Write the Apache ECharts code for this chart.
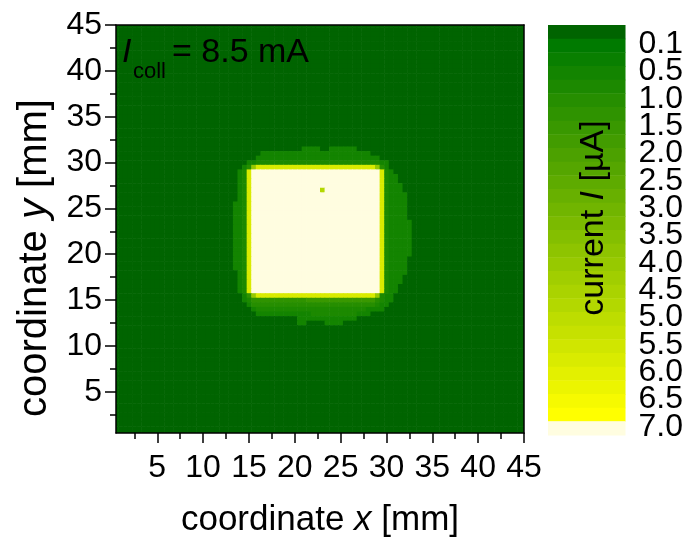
<!DOCTYPE html>
<html>
<head>
<meta charset="utf-8">
<script src="https://cdn.jsdelivr.net/npm/echarts@6/dist/echarts.min.js"></script>
<style>
  html, body { margin: 0; padding: 0; background: #ffffff; }
  #chart { width: 686px; height: 538px; }
</style>
</head>
<body>
<div id="chart"></div>
<script>
// Collector current map I(x, y) on a 0.5 mm scan grid, 0.5 ... 45 mm in x and y.
const FONT = '"Liberation Sans", Arial, Helvetica, sans-serif';

const gridStep = 0.5;
const xStart = 0.5, xEnd = 45;
const yStart = 0.5, yEnd = 45;

const axisTicks = [5, 10, 15, 20, 25, 30, 35, 40, 45];
const axisMinorTicks = [2.5, 7.5, 12.5, 17.5, 22.5, 27.5, 32.5, 37.5, 42.5];

// contour level boundaries of the colour scale, in µA
const levelBounds = [0.1, 0.3, 0.5, 0.75, 1.0, 1.25, 1.5, 1.75, 2.0, 2.25, 2.5, 2.75, 3.0, 3.25,
  3.5, 3.75, 4.0, 4.25, 4.5, 4.75, 5.0, 5.25, 5.5, 5.75, 6.0, 6.25, 6.5, 6.75, 7.0];
const levelLabels = ['0.1', '0.5', '1.0', '1.5', '2.0', '2.5', '3.0', '3.5', '4.0', '4.5',
  '5.0', '5.5', '6.0', '6.5', '7.0'];
const levelLabelPos = [1, 3, 5, 7, 9, 11, 13, 15, 17, 19, 21, 23, 25, 27, 29];
const labelDrop = 0.4; // labels sit slightly below their band boundary

// one character per grid point; each code stands for a current (µA) inside one contour band
const levelCodes = '0123456789abcdefghijklmnopqrst';
const codeCurrent = {
  '0': 0.05, '1': 0.2, '2': 0.4, '3': 0.6, '4': 0.9, '5': 1.1, '6': 1.4, '7': 1.6,
  '8': 1.9, '9': 2.1, 'a': 2.4, 'b': 2.6, 'c': 2.9, 'd': 3.1, 'e': 3.4, 'f': 3.6,
  'g': 3.9, 'h': 4.1, 'i': 4.4, 'j': 4.6, 'k': 4.9, 'l': 5.1, 'm': 5.4, 'n': 5.6,
  'o': 5.9, 'p': 6.1, 'q': 6.4, 'r': 6.6, 's': 6.9, 't': 9.0
};

// rows from y = 45 mm (top) down to y = 0.5 mm; columns from x = 0.5 mm to 45 mm
const currentRows = [
  "00000 00000 00000 00000 00000 00000 00000 00000 00000 00000 00000 00000 00000 00000 00000 00000 00000 00000",
  "00000 00000 00000 00000 00000 00000 00000 00000 00000 00000 00000 00000 00000 00000 00000 00000 00000 00000",
  "00000 00000 00000 00000 00000 00000 00000 00000 00000 00000 00000 00000 00000 00000 00000 00000 00000 00000",
  "00000 00000 00000 00000 00000 00000 00000 00000 00000 00000 00000 00000 00000 00000 00000 00000 00000 00000",
  "00000 00000 00000 00000 00000 00000 00000 00000 00000 00000 00000 00000 00000 00000 00000 00000 00000 00000",
  "00000 00000 00000 00000 00000 00000 00000 00000 00000 00000 00000 00000 00000 00000 00000 00000 00000 00000",
  "00000 00000 00000 00000 00000 00000 00000 00000 00000 00000 00000 00000 00000 00000 00000 00000 00000 00000",
  "00000 00000 00000 00000 00000 00000 00000 00000 00000 00000 00000 00000 00000 00000 00000 00000 00000 00000",
  "00000 00000 00000 00000 00000 00000 00000 00000 00000 00000 00000 00000 00000 00000 00000 00000 00000 00000",
  "00000 00000 00000 00000 00000 00000 00000 00000 00000 00000 00000 00000 00000 00000 00000 00000 00000 00000",
  "00000 00000 00000 00000 00000 00000 00000 00000 00000 00000 00000 00000 00000 00000 00000 00000 00000 00000",
  "00000 00000 00000 00000 00000 00000 00000 00000 00000 00000 00000 00000 00000 00000 00000 00000 00000 00000",
  "00000 00000 00000 00000 00000 00000 00000 00000 00000 00000 00000 00000 00000 00000 00000 00000 00000 00000",
  "00000 00000 00000 00000 00000 00000 00000 00000 00000 00000 00000 00000 00000 00000 00000 00000 00000 00000",
  "00000 00000 00000 00000 00000 00000 00000 00000 00000 00000 00000 00000 00000 00000 00000 00000 00000 00000",
  "00000 00000 00000 00000 00000 00000 00000 00000 00000 00000 00000 00000 00000 00000 00000 00000 00000 00000",
  "00000 00000 00000 00000 00000 00000 00000 00000 00000 00000 00000 00000 00000 00000 00000 00000 00000 00000",
  "00000 00000 00000 00000 00000 00000 00000 00000 00000 00000 00000 00000 00000 00000 00000 00000 00000 00000",
  "00000 00000 00000 00000 00000 00000 00000 00000 00000 00000 00000 00000 00000 00000 00000 00000 00000 00000",
  "00000 00000 00000 00000 00000 00000 00000 00000 00000 00000 00000 00000 00000 00000 00000 00000 00000 00000",
  "00000 00000 00000 00000 00000 00000 00000 00000 00000 00000 00000 00000 00000 00000 00000 00000 00000 00000",
  "00000 00000 00000 00000 00000 00000 00000 00000 00000 00000 00000 00000 00000 00000 00000 00000 00000 00000",
  "00000 00000 00000 00000 00000 00000 00000 00000 00000 00000 00000 00000 00000 00000 00000 00000 00000 00000",
  "00000 00000 00000 00000 00000 00000 00000 00000 00000 00000 00000 00000 00000 00000 00000 00000 00000 00000",
  "00000 00000 00000 00000 00000 00000 00000 00000 00000 00000 00000 00000 00000 00000 00000 00000 00000 00000",
  "00000 00000 00000 00000 00000 00000 00000 00000 00000 00000 00000 00000 00000 00000 00000 00000 00000 00000",
  "00000 00000 00000 00000 00000 00000 00000 00000 00000 00000 00000 00000 00000 00000 00000 00000 00000 00000",
  "00000 00000 00000 00000 00000 00000 00000 00000 03333 00333 33300 00000 00000 00000 00000 00000 00000 00000",
  "00000 00000 00000 00000 00000 00000 00333 33333 33333 33333 33333 30000 00000 00000 00000 00000 00000 00000",
  "00000 00000 00000 00000 00000 00000 03333 33333 33333 33333 33333 33300 00000 00000 00000 00000 00000 00000",
  "00000 00000 00000 00000 00000 00003 34444 44444 44444 44444 44444 44433 00000 00000 00000 00000 00000 00000",
  "00000 00000 00000 00000 00000 00035 hoooo ooooo ooooo ooooo ooooo ooh53 00000 00000 00000 00000 00000 00000",
  "00000 00000 00000 00000 00000 0034o ttttt ttttt ttttt ttttt ttttt ttto4 30000 00000 00000 00000 00000 00000",
  "00000 00000 00000 00000 00000 0034o ttttt ttttt ttttt ttttt ttttt ttto4 33000 00000 00000 00000 00000 00000",
  "00000 00000 00000 00000 00000 0034o ttttt ttttt ttttt ttttt ttttt ttto4 33000 00000 00000 00000 00000 00000",
  "00000 00000 00000 00000 00000 0034o ttttt ttttt ttttt ttttt ttttt ttto4 33300 00000 00000 00000 00000 00000",
  "00000 00000 00000 00000 00000 0034o ttttt ttttt ttttt ktttt ttttt ttto4 33300 00000 00000 00000 00000 00000",
  "00000 00000 00000 00000 00000 0034o ttttt ttttt ttttt ttttt ttttt ttto4 33330 00000 00000 00000 00000 00000",
  "00000 00000 00000 00000 00000 0034o ttttt ttttt ttttt ttttt ttttt ttto4 33330 00000 00000 00000 00000 00000",
  "00000 00000 00000 00000 00000 0334o ttttt ttttt ttttt ttttt ttttt ttto4 33330 00000 00000 00000 00000 00000",
  "00000 00000 00000 00000 00000 0334o ttttt ttttt ttttt ttttt ttttt ttto4 33330 00000 00000 00000 00000 00000",
  "00000 00000 00000 00000 00000 0334o ttttt ttttt ttttt ttttt ttttt ttto4 33330 00000 00000 00000 00000 00000",
  "00000 00000 00000 00000 00000 0334o ttttt ttttt ttttt ttttt ttttt ttto4 33330 00000 00000 00000 00000 00000",
  "00000 00000 00000 00000 00000 0334o ttttt ttttt ttttt ttttt ttttt ttto4 33333 00000 00000 00000 00000 00000",
  "00000 00000 00000 00000 00000 0334o ttttt ttttt ttttt ttttt ttttt ttto4 33333 00000 00000 00000 00000 00000",
  "00000 00000 00000 00000 00000 0334o ttttt ttttt ttttt ttttt ttttt ttto4 33333 00000 00000 00000 00000 00000",
  "00000 00000 00000 00000 00000 0334o ttttt ttttt ttttt ttttt ttttt ttto4 33333 00000 00000 00000 00000 00000",
  "00000 00000 00000 00000 00000 0334o ttttt ttttt ttttt ttttt ttttt ttto4 33333 00000 00000 00000 00000 00000",
  "00000 00000 00000 00000 00000 0334o ttttt ttttt ttttt ttttt ttttt ttto4 33333 00000 00000 00000 00000 00000",
  "00000 00000 00000 00000 00000 0334o ttttt ttttt ttttt ttttt ttttt ttto4 33333 00000 00000 00000 00000 00000",
  "00000 00000 00000 00000 00000 0334o ttttt ttttt ttttt ttttt ttttt ttto4 33333 00000 00000 00000 00000 00000",
  "00000 00000 00000 00000 00000 0334o ttttt ttttt ttttt ttttt ttttt ttto4 33330 00000 00000 00000 00000 00000",
  "00000 00000 00000 00000 00000 0334o ttttt ttttt ttttt ttttt ttttt ttto4 33330 00000 00000 00000 00000 00000",
  "00000 00000 00000 00000 00000 0334o ttttt ttttt ttttt ttttt ttttt ttto4 33330 00000 00000 00000 00000 00000",
  "00000 00000 00000 00000 00000 0034o ttttt ttttt ttttt ttttt ttttt ttto4 33330 00000 00000 00000 00000 00000",
  "00000 00000 00000 00000 00000 0034o ttttt ttttt ttttt ttttt ttttt ttto4 33300 00000 00000 00000 00000 00000",
  "00000 00000 00000 00000 00000 0034o ttttt ttttt ttttt ttttt ttttt ttto4 33300 00000 00000 00000 00000 00000",
  "00000 00000 00000 00000 00000 0034o ttttt ttttt ttttt ttttt ttttt ttto4 33000 00000 00000 00000 00000 00000",
  "00000 00000 00000 00000 00000 0034o ttttt ttttt ttttt ttttt ttttt ttto4 33000 00000 00000 00000 00000 00000",
  "00000 00000 00000 00000 00000 00036 hoooo ooooo ooooo ooooo ooooo ooh43 30000 00000 00000 00000 00000 00000",
  "00000 00000 00000 00000 00000 00034 66666 66666 66777 77777 77777 77543 30000 00000 00000 00000 00000 00000",
  "00000 00000 00000 00000 00000 00003 55555 55555 55555 55555 55555 55433 00000 00000 00000 00000 00000 00000",
  "00000 00000 00000 00000 00000 00000 34444 44444 44444 44444 44444 33330 00000 00000 00000 00000 00000 00000",
  "00000 00000 00000 00000 00000 00000 03333 33333 33344 44444 44433 30000 00000 00000 00000 00000 00000 00000",
  "00000 00000 00000 00000 00000 00000 00000 00000 33333 33333 33300 00000 00000 00000 00000 00000 00000 00000",
  "00000 00000 00000 00000 00000 00000 00000 00000 33000 03333 00000 00000 00000 00000 00000 00000 00000 00000",
  "00000 00000 00000 00000 00000 00000 00000 00000 00000 00000 00000 00000 00000 00000 00000 00000 00000 00000",
  "00000 00000 00000 00000 00000 00000 00000 00000 00000 00000 00000 00000 00000 00000 00000 00000 00000 00000",
  "00000 00000 00000 00000 00000 00000 00000 00000 00000 00000 00000 00000 00000 00000 00000 00000 00000 00000",
  "00000 00000 00000 00000 00000 00000 00000 00000 00000 00000 00000 00000 00000 00000 00000 00000 00000 00000",
  "00000 00000 00000 00000 00000 00000 00000 00000 00000 00000 00000 00000 00000 00000 00000 00000 00000 00000",
  "00000 00000 00000 00000 00000 00000 00000 00000 00000 00000 00000 00000 00000 00000 00000 00000 00000 00000",
  "00000 00000 00000 00000 00000 00000 00000 00000 00000 00000 00000 00000 00000 00000 00000 00000 00000 00000",
  "00000 00000 00000 00000 00000 00000 00000 00000 00000 00000 00000 00000 00000 00000 00000 00000 00000 00000",
  "00000 00000 00000 00000 00000 00000 00000 00000 00000 00000 00000 00000 00000 00000 00000 00000 00000 00000",
  "00000 00000 00000 00000 00000 00000 00000 00000 00000 00000 00000 00000 00000 00000 00000 00000 00000 00000",
  "00000 00000 00000 00000 00000 00000 00000 00000 00000 00000 00000 00000 00000 00000 00000 00000 00000 00000",
  "00000 00000 00000 00000 00000 00000 00000 00000 00000 00000 00000 00000 00000 00000 00000 00000 00000 00000",
  "00000 00000 00000 00000 00000 00000 00000 00000 00000 00000 00000 00000 00000 00000 00000 00000 00000 00000",
  "00000 00000 00000 00000 00000 00000 00000 00000 00000 00000 00000 00000 00000 00000 00000 00000 00000 00000",
  "00000 00000 00000 00000 00000 00000 00000 00000 00000 00000 00000 00000 00000 00000 00000 00000 00000 00000",
  "00000 00000 00000 00000 00000 00000 00000 00000 00000 00000 00000 00000 00000 00000 00000 00000 00000 00000",
  "00000 00000 00000 00000 00000 00000 00000 00000 00000 00000 00000 00000 00000 00000 00000 00000 00000 00000",
  "00000 00000 00000 00000 00000 00000 00000 00000 00000 00000 00000 00000 00000 00000 00000 00000 00000 00000",
  "00000 00000 00000 00000 00000 00000 00000 00000 00000 00000 00000 00000 00000 00000 00000 00000 00000 00000",
  "00000 00000 00000 00000 00000 00000 00000 00000 00000 00000 00000 00000 00000 00000 00000 00000 00000 00000",
  "00000 00000 00000 00000 00000 00000 00000 00000 00000 00000 00000 00000 00000 00000 00000 00000 00000 00000",
  "00000 00000 00000 00000 00000 00000 00000 00000 00000 00000 00000 00000 00000 00000 00000 00000 00000 00000",
  "00000 00000 00000 00000 00000 00000 00000 00000 00000 00000 00000 00000 00000 00000 00000 00000 00000 00000",
  "00000 00000 00000 00000 00000 00000 00000 00000 00000 00000 00000 00000 00000 00000 00000 00000 00000 00000"
];

// ---- colour scale: darkest band, 28-step green→yellow ramp, pale top band ----
const rampFrom = [0, 122, 0], rampTo = [255, 255, 0];
const levelColors = ['#006400'];
for (let k = 1; k <= 28; k++) {
  const t = (k - 1) / 27;
  const c = rampFrom.map((v, i) => Math.round(v + (rampTo[i] - v) * t));
  levelColors.push('rgb(' + c.join(',') + ')');
}
levelColors.push('#fffde0');

const pieces = [{ lt: levelBounds[0], color: levelColors[0] }];
for (let k = 1; k < levelBounds.length; k++) {
  pieces.push({ gte: levelBounds[k - 1], lt: levelBounds[k], color: levelColors[k] });
}
pieces.push({ gte: levelBounds[levelBounds.length - 1], color: levelColors[levelColors.length - 1] });

// ---- grid points [x, y, current] ----
const cells = [];
currentRows.forEach((row, r) => {
  const codes = row.replace(/\s+/g, '');
  const y = yEnd - r * gridStep;
  for (let c = 0; c < codes.length; c++) {
    cells.push([xStart + c * gridStep, y, codeCurrent[codes[c]]]);
  }
});

// colour bar bands: [x, band position, current]
const bands = levelCodes.split('').map((ch, k) => [0.5, k + 0.5, codeCurrent[ch]]);

function renderCell(params, api) {
  const x = api.value(0), y = api.value(1);
  const p0 = api.coord([x - gridStep / 2, y + gridStep / 2]);
  const p1 = api.coord([x + gridStep / 2, y - gridStep / 2]);
  const rect = echarts.graphic.clipRectByRect({
    x: p0[0], y: p0[1], width: p1[0] - p0[0] + 0.6, height: p1[1] - p0[1] + 0.6
  }, {
    x: params.coordSys.x, y: params.coordSys.y,
    width: params.coordSys.width, height: params.coordSys.height
  });
  if (!rect) return null;
  return { type: 'rect', shape: rect, style: { fill: api.visual('color') } };
}

function renderBand(params, api) {
  const k = api.value(1) - 0.5;
  const p0 = api.coord([0, k]);
  const p1 = api.coord([1, k + 1]);
  return {
    type: 'rect',
    shape: {
      x: Math.min(p0[0], p1[0]), y: Math.min(p0[1], p1[1]),
      width: Math.abs(p1[0] - p0[0]), height: Math.abs(p1[1] - p0[1]) + 0.5
    },
    style: { fill: api.visual('color') }
  };
}

const axisBlack = { color: '#000000', width: 1.5 };
const tickFont = { color: '#000000', fontSize: 32, fontFamily: FONT };

// colour bar labels are split over two scales (alternate labels) so that the
// tightly stacked values are never thinned out by label-overlap handling
function scaleAxis(parity) {
  const pos = levelLabelPos.filter((p, i) => i % 2 === parity);
  return {
    gridIndex: 1, type: 'value', min: 0, max: 30, inverse: true, position: 'right',
    axisLine: { show: false }, axisTick: { show: false }, splitLine: { show: false },
    axisLabel: {
      customValues: pos.map((p) => p + labelDrop), margin: 13, ...tickFont, align: 'left',
      showMinLabel: true, showMaxLabel: true,
      formatter: (v) => levelLabels[Math.round((v - labelDrop - 1) / 2)]
    }
  };
}

const chart = echarts.init(document.getElementById('chart'), null, { renderer: 'canvas' });

chart.setOption({
  animation: false,
  backgroundColor: '#ffffff',
  textStyle: { fontFamily: FONT },
  grid: [
    { left: 116, top: 25, width: 408, height: 408, containLabel: false },
    { left: 548, top: 25, width: 80, height: 410, containLabel: false }
  ],
  xAxis: [
    { // main x axis with labels and major ticks
      gridIndex: 0, type: 'value', min: xStart, max: xEnd, position: 'bottom', z: 10,
      axisLine: { show: true, onZero: false, lineStyle: axisBlack },
      axisTick: { show: true, customValues: axisTicks, length: 10, inside: false, lineStyle: axisBlack },
      axisLabel: { customValues: axisTicks, margin: 19, ...tickFont },
      splitLine: { show: false }
    },
    { // minor ticks
      gridIndex: 0, type: 'value', min: xStart, max: xEnd, position: 'bottom', z: 10,
      axisLine: { show: false },
      axisTick: { show: true, customValues: axisMinorTicks, length: 6, inside: false, lineStyle: axisBlack },
      axisLabel: { show: false },
      splitLine: { show: false }
    },
    { // top frame
      gridIndex: 0, type: 'value', min: xStart, max: xEnd, position: 'top', z: 10,
      axisLine: { show: true, onZero: false, lineStyle: axisBlack },
      axisTick: { show: false }, axisLabel: { show: false }, splitLine: { show: false }
    },
    { gridIndex: 1, type: 'value', min: 0, max: 1, show: false }
  ],
  yAxis: [
    {
      gridIndex: 0, type: 'value', min: yStart, max: yEnd, position: 'left', z: 10,
      axisLine: { show: true, onZero: false, lineStyle: axisBlack },
      axisTick: { show: true, customValues: axisTicks, length: 11, inside: false, lineStyle: axisBlack },
      axisLabel: { customValues: axisTicks, margin: 14, ...tickFont },
      splitLine: { show: false }
    },
    {
      gridIndex: 0, type: 'value', min: yStart, max: yEnd, position: 'left', z: 10,
      axisLine: { show: false },
      axisTick: { show: true, customValues: axisMinorTicks, length: 6, inside: false, lineStyle: axisBlack },
      axisLabel: { show: false },
      splitLine: { show: false }
    },
    {
      gridIndex: 0, type: 'value', min: yStart, max: yEnd, position: 'right', z: 10,
      axisLine: { show: true, onZero: false, lineStyle: axisBlack },
      axisTick: { show: false }, axisLabel: { show: false }, splitLine: { show: false }
    },
    scaleAxis(0),
    scaleAxis(1)
  ],
  visualMap: {
    type: 'piecewise', show: false, dimension: 2, seriesIndex: [0, 1], pieces: pieces
  },
  series: [
    {
      type: 'custom', name: 'current', xAxisIndex: 0, yAxisIndex: 0,
      renderItem: renderCell, data: cells, encode: { x: 0, y: 1 },
      silent: true, progressive: 0, z: 2
    },
    {
      type: 'custom', name: 'scale', xAxisIndex: 3, yAxisIndex: 3,
      renderItem: renderBand, data: bands, encode: { x: 0, y: 1 },
      silent: true, progressive: 0, z: 2
    }
  ],
  graphic: [
    {
      type: 'text', x: 320, y: 520, z: 20,
      style: {
        text: 'coordinate {it|x} [mm]', align: 'center', verticalAlign: 'middle',
        fill: '#000', font: '35px ' + FONT,
        rich: { it: { fontStyle: 'italic', fontSize: 35, fontFamily: FONT, fill: '#000' } }
      }
    },
    {
      type: 'text', x: 35, y: 258, rotation: Math.PI / 2, z: 20,
      style: {
        text: 'coordinate {it|y} [mm]', align: 'center', verticalAlign: 'middle',
        fill: '#000', font: '40px ' + FONT,
        rich: { it: { fontStyle: 'italic', fontSize: 40, fontFamily: FONT, fill: '#000' } }
      }
    },
    {
      type: 'text', x: 594, y: 218, rotation: Math.PI / 2, z: 20,
      style: {
        text: 'current {it|I} [µA]', align: 'center', verticalAlign: 'middle',
        fill: '#000', font: '34px ' + FONT,
        rich: { it: { fontStyle: 'italic', fontSize: 34, fontFamily: FONT, fill: '#000' } }
      }
    },
    {
      type: 'text', x: 122, y: 53, z: 20,
      style: { text: 'I', align: 'left', verticalAlign: 'middle', fill: '#000', font: 'italic 34px ' + FONT }
    },
    {
      type: 'text', x: 133, y: 71.5, z: 20,
      style: { text: 'coll', align: 'left', verticalAlign: 'middle', fill: '#000', font: '22px ' + FONT }
    },
    {
      type: 'text', x: 172, y: 53, z: 20,
      style: { text: '= 8.5 mA', align: 'left', verticalAlign: 'middle', fill: '#000', font: '34px ' + FONT }
    }
  ]
});
</script>
</body>
</html>
